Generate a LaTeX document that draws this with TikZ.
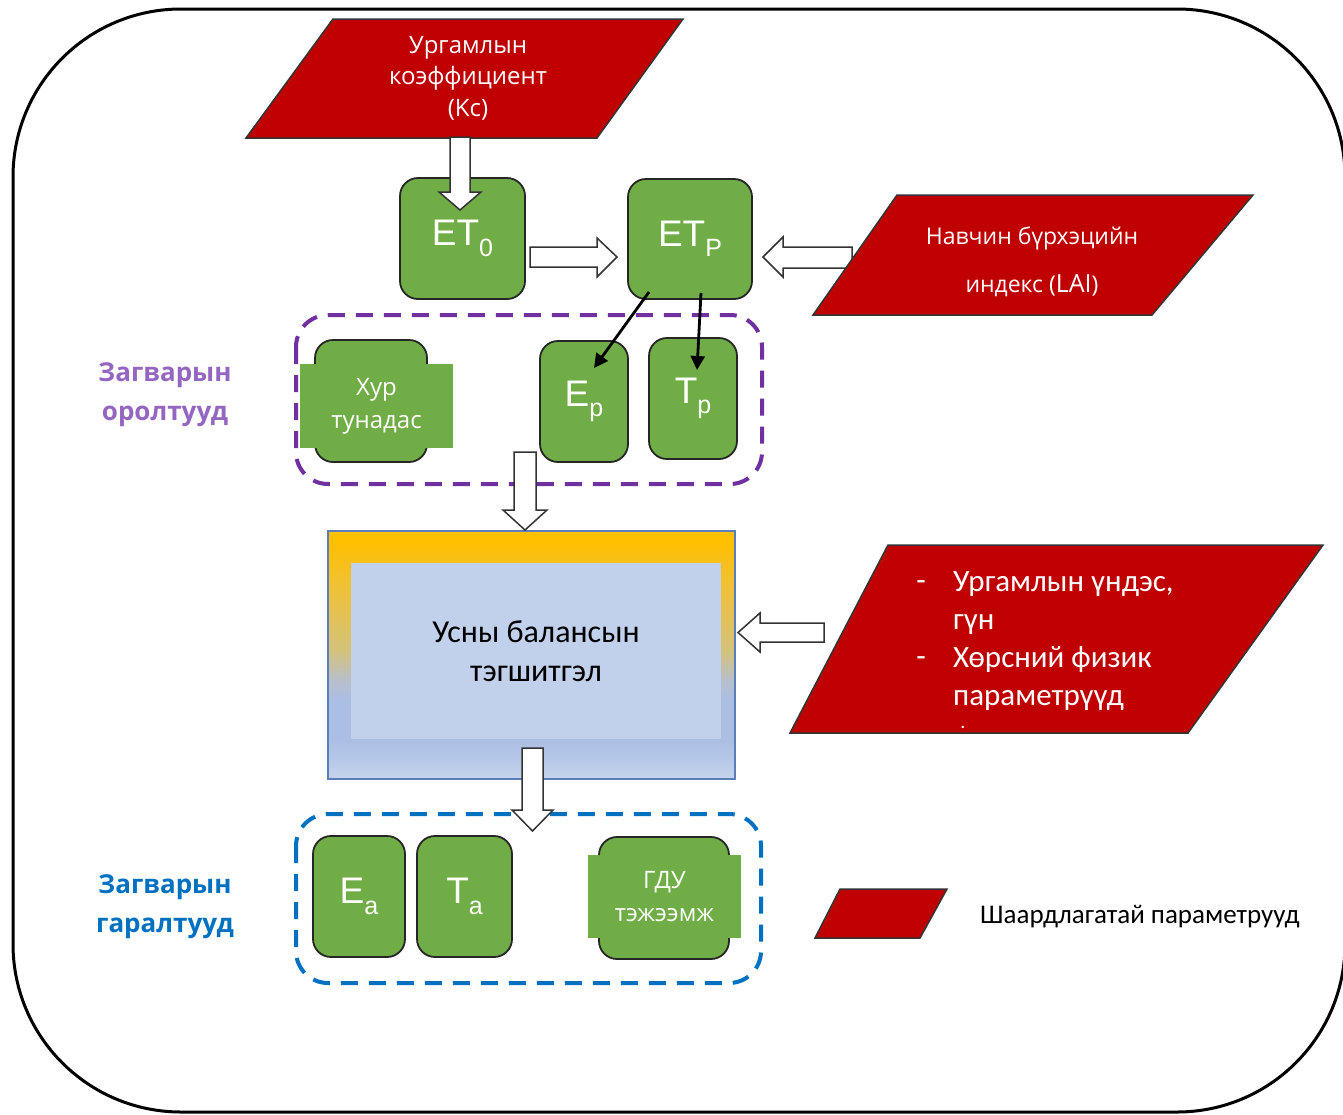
\documentclass[tikz,border=0pt]{standalone}
\usepackage{fontspec}
\setmainfont{Open Sans}
\newfontfamily\arialf{Liberation Sans}
\newfontfamily\candf{Carlito}
\usetikzlibrary{arrows.meta,calc}

\definecolor{pred}{HTML}{C00000}
\definecolor{pgreen}{HTML}{70AD47}
\definecolor{ppurple}{HTML}{7030A0}
\definecolor{lpurple}{HTML}{9466C2}
\definecolor{pblue}{HTML}{0070C0}
\definecolor{lblue}{HTML}{C1D1EB}
\definecolor{bframe}{HTML}{5B7DB8}
\definecolor{sh1}{HTML}{C6D4EC}
\definecolor{sh2}{HTML}{B6C8E8}
\definecolor{sh3}{HTML}{ABBEE3}
\definecolor{sh4}{HTML}{B8BFCB}
\definecolor{sh5}{HTML}{D4C27A}
\definecolor{sh6}{HTML}{EAC146}
\definecolor{sh7}{HTML}{FFC000}

% vertical gradient of the water-balance block (bottom to top)
\pgfdeclareverticalshading{balshade}{100bp}{%
  color(0bp)=(sh1); color(25bp)=(sh1); color(29bp)=(sh2); color(33bp)=(sh3);
  color(41bp)=(sh3); color(45bp)=(sh4); color(51bp)=(sh5); color(61bp)=(sh6);
  color(73bp)=(sh7); color(100bp)=(sh7)}

\newcommand{\subtxt}[2]{#1\raisebox{-0.28em}{\fontsize{25}{25}\selectfont #2}}

\tikzset{
  gbox/.style={draw=black!85, line width=1.8pt, fill=pgreen, rounded corners=18pt,
    inner sep=0pt, text=white, font=\arialf\fontsize{37}{40}\selectfont},
  gpatch/.style={fill=pgreen, inner sep=0pt, text=white, align=center},
  para/.style={draw=black!80, line width=1.5pt, fill=pred},
  blockarrow/.style={draw=black!80, line width=1.5pt, fill=white, line join=miter},
  thinarrow/.style={draw=black, line width=2.8pt, -{Triangle[length=14pt,width=14pt]}},
  grouppurple/.style={draw=ppurple, line width=4pt, dash pattern=on 17pt off 11pt, rounded corners=32pt},
  groupblue/.style={draw=pblue, line width=4pt, dash pattern=on 17pt off 11pt, rounded corners=32pt},
  grouplabel/.style={align=center, font=\bfseries\fontsize{26}{39}\selectfont},
  whitetxt/.style={text=white, align=center, inner sep=0pt}
}

\begin{document}
\begin{tikzpicture}[x=1pt, y=-1pt]
\useasboundingbox (0,0) rectangle (1343,1114);
\clip (0,0) rectangle (1343,1114);

% outer frame
\draw[line width=3pt, rounded corners=168pt] (13,9) rectangle (1345,1112);

% crop coefficient input
\draw[para] (333,19) -- (683,19) -- (597,138) -- (246,138) -- cycle;
\node[whitetxt, font=\fontsize{24}{31.5}\selectfont] (kc) at (468,78)
  {Ургамлын\\коэффициент\\(Kc)};

% reference and potential evapotranspiration
\node[gbox, minimum width=125pt, minimum height=121pt] (et0) at (462.5,238.5)
  {\subtxt{ET}{0}};
\node[gbox, minimum width=124pt, minimum height=120pt] (etp) at (690,239)
  {\subtxt{ET}{P}};

% leaf area index input
\draw[blockarrow] (852,247) -- (783,247) -- (783,237) -- (763,257) -- (783,277)
  -- (783,268) -- (852,268) -- cycle;
\draw[para] (897,195) -- (1253,195) -- (1152,315) -- (813,315) -- cycle;
\node[whitetxt, font=\fontsize{23}{48}\selectfont] (lai) at (1032,262)
  {Навчин бүрхэцийн\\индекс ({\fontsize{25}{48}\selectfont LAI})};

% block arrows between the top boxes
\draw[blockarrow] (450,137) -- (450,192) -- (439,192) -- (460,210) -- (481,192)
  -- (470,192) -- (470,137) -- cycle;
\draw[blockarrow] (530,247) -- (597,247) -- (597,238) -- (617,257) -- (597,277)
  -- (597,267) -- (530,267) -- cycle;

% model inputs
\draw[grouppurple] (296,315) rectangle (762,484);
\node[gbox, minimum width=112pt, minimum height=122pt] (hurbox) at (371,401) {};
\node[gpatch, minimum width=153pt, minimum height=84pt,
  font=\fontsize{24}{33}\selectfont] (hur) at (376.5,406) {Хур\\тунадас};
\node[gbox, minimum width=88pt, minimum height=121pt] (ep) at (584,401.5)
  {\subtxt{E}{p}};
\node[gbox, minimum width=88pt, minimum height=121pt] (tp) at (693,398.5)
  {\subtxt{T}{p}};

\coordinate (s1) at (649,292);
\coordinate (e1) at (594,368);
\coordinate (s2) at (701,293);
\coordinate (e2) at (697,370);
\draw[thinarrow] (s1) -- (e1);
\draw[thinarrow] (s2) -- (e2);

\node[grouplabel, text=lpurple] (inlabel) at (165,395) {Загварын\\оролтууд};

% water balance block
\shade[shading=balshade] (328,531) rectangle (735,779);
\draw[bframe, line width=1.5pt] (328,531) rectangle (735,779);
\node[fill=lblue, minimum width=370pt, minimum height=176pt, inner sep=0pt,
  align=center, font=\candf\fontsize{32}{39}\selectfont] (bal) at (536,651)
  {Усны балансын\\тэгшитгэл};

\draw[blockarrow] (514,452) -- (514,510) -- (503,510) -- (525,530) -- (547,510)
  -- (536,510) -- (536,452) -- cycle;

% root and soil parameters input
\draw[blockarrow] (824,623) -- (760,623) -- (760,613) -- (738,632.5) -- (760,652)
  -- (760,642) -- (824,642) -- cycle;
\draw[para] (888,545) -- (1323,545) -- (1188,733) -- (790,733) -- cycle;
\node[text=white, font=\candf\fontsize{31}{38}\selectfont, align=left,
  anchor=north west, inner sep=0pt] (soil) at (953,571)
  {Ургамлын үндэс,\\гүн\\Хөрсний физик\\параметрүүд};
\node[text=white, font=\candf\fontsize{31}{38}\selectfont, inner sep=0pt] (d1) at (921,586) {-};
\node[text=white, font=\candf\fontsize{31}{38}\selectfont, inner sep=0pt] (d2) at (921,662) {-};
\node[text=white, font=\candf\fontsize{20}{20}\selectfont, inner sep=0pt] (dot) at (963,727) {.};

% model outputs
\draw[groupblue] (296,814) rectangle (761,983);
\node[gbox, minimum width=92pt, minimum height=121pt] (ea) at (359,896.5)
  {\subtxt{E}{a}};
\node[gbox, minimum width=95pt, minimum height=121pt] (ta) at (464.5,896.5)
  {\subtxt{T}{a}};
\node[gbox, minimum width=130pt, minimum height=122pt] (gdubox) at (664,898) {};
\node[gpatch, minimum width=153pt, minimum height=83pt,
  font=\fontsize{24}{33}\selectfont] (gdu) at (664.5,896.5) {ГДУ\\тэжээмж};

\draw[blockarrow] (522,748) -- (522,810) -- (512,810) -- (532.5,831) -- (553,810)
  -- (543,810) -- (543,748) -- cycle;

\node[grouplabel, text=pblue] (outlabel) at (165,907) {Загварын\\гаралтууд};

% legend
\draw[para] (840,889) -- (947,889) -- (920,938) -- (815,938) -- cycle;
\node[anchor=west, inner sep=0pt, font=\candf\fontsize{27}{30}\selectfont] (legend)
  at (980,917) {Шаардлагатай параметрууд};

\end{tikzpicture}
\end{document}
